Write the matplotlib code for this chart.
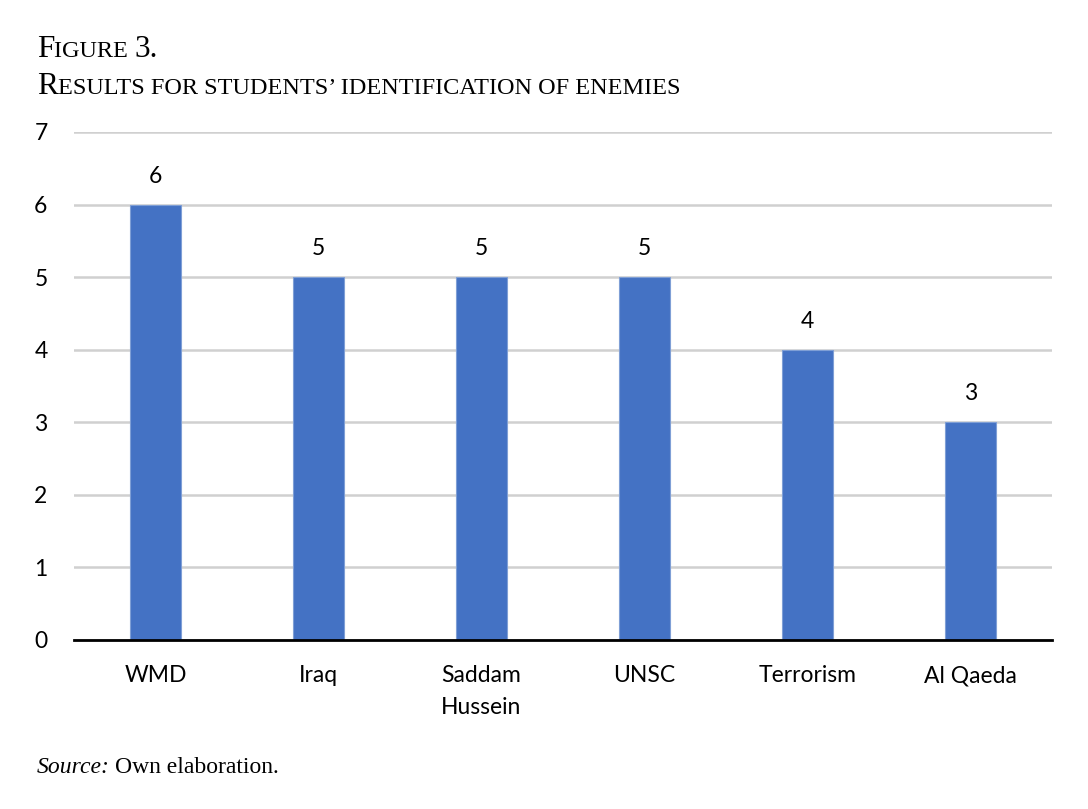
import matplotlib
matplotlib.use("Agg")
import matplotlib.pyplot as plt

categories = ["WMD", "Iraq", "Saddam\nHussein", "UNSC", "Terrorism", "Al Qaeda"]
values = [6, 5, 5, 5, 4, 3]
yticks = [0, 1, 2, 3, 4, 5, 6, 7]

W, H = 1088, 809
fig = plt.figure(figsize=(W / 100, H / 100), dpi=100)
ax = fig.add_axes([74 / W, 1 - 640 / H, (1052 - 74) / W, (640 - 132) / H])

LABEL_FONT = ["Lato", "DejaVu Sans"]
SERIF = ["Liberation Serif", "DejaVu Serif"]
FS = 16.5

x = list(range(len(categories)))
bars = ax.bar(x, values, width=0.31, color="#4472C4", edgecolor="#7f9fd6", linewidth=0.8, zorder=3)
for xi, v in zip(x, values):
    ax.annotate(str(v), (xi, v), xytext=(0, 20.5), textcoords="offset points",
                ha="center", va="center", fontsize=FS, family=LABEL_FONT, color="black")

ax.set_xlim(-0.5, len(categories) - 0.5)
ax.set_ylim(0, 7)
ax.set_yticks(yticks)
ax.set_xticks(x)
ax.set_xticklabels(categories, fontsize=FS, family=LABEL_FONT, linespacing=1.62)
ax.set_yticklabels([str(t) for t in yticks], fontsize=FS, family=LABEL_FONT)
ax.tick_params(axis="y", length=0, pad=19)
ax.tick_params(axis="x", length=0, pad=18)
for tl in ax.get_xticklabels():
    tl.set_verticalalignment("top")
ax.yaxis.grid(True, color="#d0d0d0", linewidth=1.8, zorder=0)
ax.set_axisbelow(True)
for s in ["top", "right", "left"]:
    ax.spines[s].set_visible(False)
ax.spines["bottom"].set_color("black")
ax.spines["bottom"].set_linewidth(2)
ax.spines["bottom"].set_zorder(4)

fig.canvas.draw()
renderer = fig.canvas.get_renderer()


def small_caps(xpx, ypx, text, big, small, family):
    runs = []
    for ch in text:
        is_small = ch.islower() or ch in " \u2019"
        if runs and runs[-1][1] == is_small:
            runs[-1][0] += ch
        else:
            runs.append([ch, is_small])
    cx = xpx
    for s, is_small in runs:
        t = fig.text(cx / W, 1 - ypx / H, s.upper() if is_small else s,
                     fontsize=small if is_small else big, family=family,
                     va="baseline", ha="left")
        bb = t.get_window_extent(renderer)
        cx += bb.width


small_caps(37, 57, "Figure 3.", 22.5, 17.5, SERIF)
small_caps(37, 94, "Results for students\u2019 identification of enemies", 22.5, 17.5, SERIF)

t1 = fig.text(37 / W, 1 - 773 / H, "Source:", fontsize=17, family=SERIF, style="italic",
              va="baseline", ha="left")
bb = t1.get_window_extent(renderer)
fig.text((37 + bb.width + 5) / W, 1 - 773 / H, "Own elaboration.", fontsize=17, family=SERIF,
         va="baseline", ha="left")

fig.savefig("out.png", dpi=100)
